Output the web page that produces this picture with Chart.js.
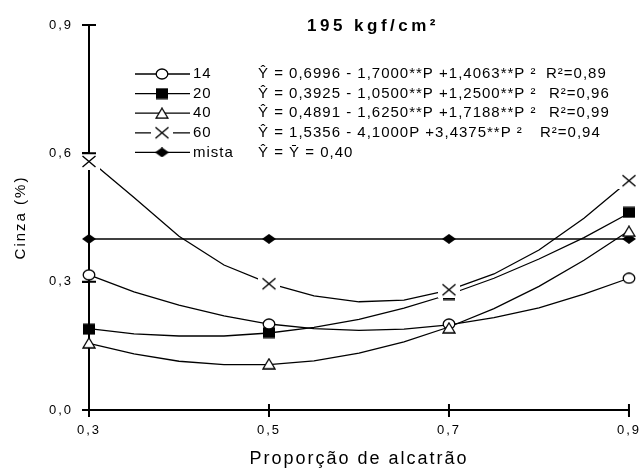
<!DOCTYPE html>
<html>
<head>
<meta charset="utf-8">
<script src="https://cdn.jsdelivr.net/npm/chart.js@4.4.1/dist/chart.umd.min.js"></script>
<style>
  html, body { margin: 0; padding: 0; background: #fff; }
  #wrap { width: 644px; height: 470px; }
</style>
</head>
<body>
<div id="wrap"><canvas id="chart" width="644" height="470"></canvas></div>
<script>
// Proporção de alcatrão where the samples were measured
const proportions = [0.3, 0.5, 0.7, 0.9];

// Measured ash content (%) for each series
const obs14 = [0.316, 0.201, 0.201, 0.308];
const obs20 = [0.189, 0.181, 0.270, 0.462];
const obs40 = [0.157, 0.108, 0.192, 0.418];
const obs60 = [0.581, 0.295, 0.281, 0.536];
const obsMista = [0.40, 0.40, 0.40, 0.40];

// Fitted curves, sampled every 0.05 of the proportion
const fitP = [0.30, 0.35, 0.40, 0.45, 0.50, 0.55, 0.60, 0.65, 0.70, 0.75, 0.80, 0.85, 0.90];
const fit14 = [0.316, 0.276, 0.245, 0.220, 0.201, 0.190, 0.186, 0.189, 0.199, 0.216, 0.239, 0.271, 0.308];
const fit20 = [0.190, 0.178, 0.173, 0.173, 0.180, 0.193, 0.212, 0.238, 0.270, 0.308, 0.353, 0.403, 0.460];
const fit40 = [0.156, 0.131, 0.114, 0.106, 0.106, 0.115, 0.133, 0.159, 0.194, 0.237, 0.289, 0.350, 0.419];
const fit60 = [0.585, 0.497, 0.406, 0.339, 0.296, 0.267, 0.253, 0.257, 0.280, 0.318, 0.374, 0.448, 0.536];

const xTickValues = [0.3, 0.5, 0.7, 0.9];
const xTickLabels = ['0,3', '0,5', '0,7', '0,9'];
const yTickValues = [0, 0.3, 0.6, 0.9];
const yTickLabels = ['0,0', '0,3', '0,6', '0,9'];

const seriesNames = ['14', '20', '40', '60', 'mista'];
const equations = [
  'Ŷ = 0,6996 - 1,7000**P +1,4063**P ²',
  'Ŷ = 0,3925 - 1,0500**P +1,2500**P ²',
  'Ŷ = 0,4891 - 1,6250**P +1,7188**P ²',
  'Ŷ = 1,5356 - 4,1000P +3,4375**P ²',
  'Ŷ = Ȳ = 0,40'
];
const rSquared = ['R²=0,89', 'R²=0,96', 'R²=0,99', 'R²=0,94', ''];
const chartTitle = '195 kgf/cm²';

const FONT = '"Liberation Sans", Arial, sans-serif';
Chart.defaults.font.family = FONT;
Chart.defaults.color = '#000';

// small canvases used as point styles
function marker(w, h, paint) {
  const c = document.createElement('canvas');
  c.width = w;
  c.height = h;
  const g = c.getContext('2d');
  g.fillStyle = '#000';
  g.strokeStyle = '#000';
  paint(g);
  return c;
}
const circleMark = marker(14, 12, g => {
  g.beginPath();
  g.ellipse(7, 6, 5.8, 5, 0, 0, Math.PI * 2);
  g.fillStyle = '#fff';
  g.fill();
  g.lineWidth = 1.3;
  g.stroke();
});
const squareMark = marker(12, 12, g => {
  g.fillRect(0, 0.5, 12, 11);
});
const triangleMark = marker(14, 12, g => {
  g.beginPath();
  g.moveTo(7, 1);
  g.lineTo(13, 11);
  g.lineTo(1, 11);
  g.closePath();
  g.fillStyle = '#fff';
  g.fill();
  g.lineWidth = 1.3;
  g.stroke();
});
// the cross sits on a white box, hiding whatever runs underneath
const crossMark = marker(22, 17, g => {
  g.fillStyle = '#fff';
  g.fillRect(0, 0, 22, 17);
  g.beginPath();
  g.moveTo(4.5, 3);
  g.lineTo(17.5, 14);
  g.moveTo(17.5, 3);
  g.lineTo(4.5, 14);
  g.lineWidth = 1.4;
  g.stroke();
});
const diamondMark = marker(14, 10, g => {
  g.beginPath();
  g.moveTo(0, 5);
  g.lineTo(7, 0);
  g.lineTo(14, 5);
  g.lineTo(7, 10);
  g.closePath();
  g.fill();
});
const legendMarks = [circleMark, squareMark, triangleMark, crossMark, diamondMark];

const toPoints = (xs, ys) => xs.map((x, i) => ({ x: x, y: ys[i] }));

function curve(ys) {
  return {
    data: toPoints(fitP, ys),
    showLine: true,
    borderColor: '#000',
    borderWidth: 1.3,
    pointRadius: 0,
    tension: 0,
    clip: false,
    order: 5
  };
}
function points(ys, style, order) {
  return {
    data: toPoints(proportions, ys),
    showLine: false,
    pointStyle: style,
    pointRadius: 6,
    clip: false,
    order: order
  };
}

const decorations = {
  id: 'decorations',
  beforeDraw(chart) {
    chart.ctx.letterSpacing = '2px';
  },
  afterDatasetsDraw(chart) {
    // tick marks cross the axis lines on both sides
    const { ctx, scales: { x, y } } = chart;
    ctx.save();
    ctx.strokeStyle = '#000';
    ctx.lineWidth = 2;
    ctx.beginPath();
    yTickValues.forEach(v => {
      const py = y.getPixelForValue(v);
      ctx.moveTo(x.left - 7, py);
      ctx.lineTo(x.left + 7, py);
    });
    xTickValues.forEach(v => {
      const px = x.getPixelForValue(v);
      ctx.moveTo(px, y.bottom - 6);
      ctx.lineTo(px, y.bottom + 6);
    });
    ctx.stroke();
    ctx.restore();
  },
  afterDraw(chart) {
    const ctx = chart.ctx;
    ctx.save();
    ctx.fillStyle = '#000';
    ctx.strokeStyle = '#000';
    ctx.textBaseline = 'middle';

    ctx.font = 'bold 17px ' + FONT;
    ctx.letterSpacing = '3.5px';
    ctx.textAlign = 'center';
    ctx.fillText(chartTitle, 373, 26);

    ctx.font = '15px ' + FONT;
    ctx.letterSpacing = '1px';
    ctx.textAlign = 'left';
    const rX = [546, 549, 549, 540, 0];
    seriesNames.forEach((name, i) => {
      const ly = 74 + i * 19.6;
      ctx.beginPath();
      ctx.moveTo(135, ly);
      ctx.lineTo(190, ly);
      ctx.lineWidth = 1.3;
      ctx.stroke();
      const m = legendMarks[i];
      ctx.drawImage(m, 162 - m.width / 2, ly - m.height / 2);
      ctx.fillText(name, 193, ly);
      ctx.fillText(equations[i], 258, ly);
      if (rSquared[i]) ctx.fillText(rSquared[i], rX[i], ly);
    });
    ctx.restore();
  }
};

new Chart(document.getElementById('chart'), {
  type: 'scatter',
  data: {
    datasets: [
      curve(fit14),
      curve(fit20),
      curve(fit40),
      curve(fit60),
      {
        data: toPoints(proportions, obsMista),
        showLine: true,
        borderColor: '#000',
        borderWidth: 1.5,
        pointStyle: diamondMark,
        pointRadius: 6,
        clip: false,
        order: 4
      },
      points(obs20, squareMark, 3),
      points(obs14, circleMark, 2),
      points(obs40, triangleMark, 1),
      points(obs60, crossMark, 0)
    ]
  },
  options: {
    responsive: false,
    animation: false,
    events: [],
    layout: { padding: { top: 25, right: 13, bottom: 0, left: 0 } },
    plugins: {
      legend: { display: false },
      tooltip: { enabled: false }
    },
    scales: {
      x: {
        type: 'linear',
        min: 0.3,
        max: 0.9,
        afterBuildTicks: s => { s.ticks = xTickValues.map(v => ({ value: v })); },
        afterFit: s => { s.height = 60; },
        ticks: {
          callback: (v, i) => xTickLabels[i],
          font: { size: 13 },
          padding: 6,
          maxRotation: 0,
          autoSkip: false
        },
        grid: { drawOnChartArea: false, tickLength: 7, lineWidth: 2, color: '#000' },
        border: { color: '#000', width: 2 },
        title: {
          display: true,
          text: 'Proporção de alcatrão',
          font: { size: 18 },
          padding: { top: 0, bottom: 0 }
        }
      },
      y: {
        type: 'linear',
        min: 0,
        max: 0.9,
        afterBuildTicks: s => { s.ticks = yTickValues.map(v => ({ value: v })); },
        afterFit: s => { s.width = 89; },
        ticks: {
          callback: (v, i) => yTickLabels[i],
          font: { size: 13 },
          padding: 9,
          autoSkip: false
        },
        grid: { drawOnChartArea: false, tickLength: 7, lineWidth: 2, color: '#000' },
        border: { color: '#000', width: 2 },
        title: {
          display: true,
          text: 'Cinza (%)',
          font: { size: 15 },
          padding: { top: 12, bottom: 0 }
        }
      }
    }
  },
  plugins: [decorations]
});
</script>
</body>
</html>
